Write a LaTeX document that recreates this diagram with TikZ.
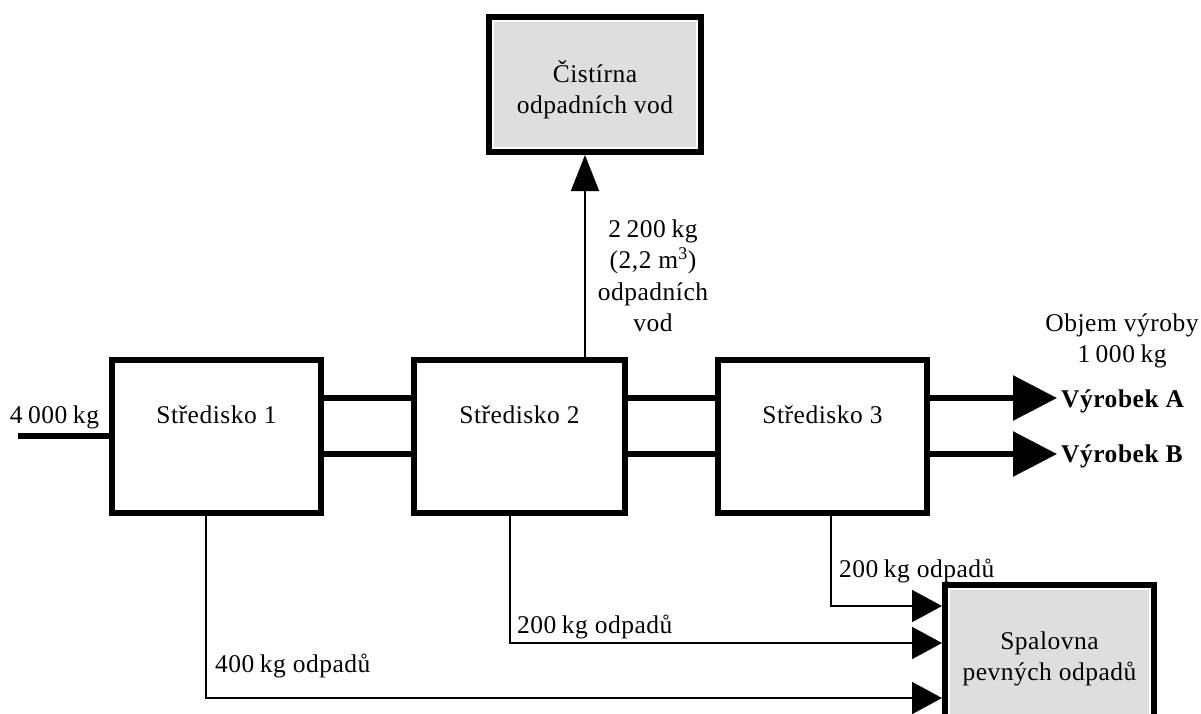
\documentclass[tikz,border=0pt]{standalone}
\usepackage{fontspec}
\setmainfont[LetterSpace=2]{Liberation Serif}
\usetikzlibrary{arrows.meta}
\definecolor{boxgray}{RGB}{222,222,222}
\newcommand{\nsp}{\hspace{5.5pt}}
\begin{document}
\begin{tikzpicture}[x=1pt,y=-1pt,
  every node/.style={font=\fontsize{25.5}{31.5}\selectfont, inner sep=0pt},
  centrebox/.style={draw, line width=6pt, fill=white, minimum height=153pt},
  destbox/.style={draw, line width=6pt, fill=boxgray},
  thickflow/.style={line width=6pt},
  thinflow/.style={line width=1.8pt},
  bigarrow/.style={-{Triangle[length=44pt,width=44pt]}},
  wastearrow/.style={-{Triangle[length=30pt,width=32pt]}},
  uparrow/.style={-{Triangle[length=36pt,width=28pt]}},
  txt/.style={anchor=base},
  ltxt/.style={anchor=base west}]
\clip (0,0) rectangle (1201,713);
% boxes
\node[destbox, minimum width=212pt, minimum height=135pt] (cis) at (595,84.5) {};
\node[centrebox, minimum width=209pt] (s1) at (216.5,436.5) {};
\node[centrebox, minimum width=211pt] (s2) at (519.5,436.5) {};
\node[centrebox, minimum width=209pt] (s3) at (822.5,436.5) {};
\node[destbox, minimum width=209pt, minimum height=175pt] (spal) at (1049.5,672.5) {};
\draw[white, line width=2pt] ([shift={(7,7)}]cis.north west) rectangle ([shift={(-7,-7)}]cis.south east);
\draw[white, line width=2pt] ([shift={(7,7)}]spal.north west) rectangle ([shift={(-7,-7)}]spal.south east);
% box texts
\node[align=center] (cist) at (595,90) {Čistírna\\odpadních vod};
\node[txt] (t1) at (216.5,423) {Středisko 1};
\node[txt] (t2) at (519.5,423) {Středisko 2};
\node[txt] (t3) at (822.5,423) {Středisko 3};
\node[align=center] (spalt) at (1049.5,659) {Spalovna\\pevných odpadů};
% helper coordinates
\coordinate (yA) at (0,398);
\coordinate (yB) at (0,454);
\coordinate (in) at (18,436);
\coordinate (xU) at (585,0);
\coordinate (x1) at (206,0);
\coordinate (x2) at (510,0);
\coordinate (x3) at (831,0);
\coordinate (w1) at (0,698);
\coordinate (w2) at (0,643);
\coordinate (w3) at (0,606);
% input
\node[txt] (inl) at (54.5,423) {4\nsp000\nsp kg};
\draw[thickflow] (in) -- (s1.west |- in);
% between centres
\draw[thickflow] (s1.east |- yA) -- (s2.west |- yA);
\draw[thickflow] (s1.east |- yB) -- (s2.west |- yB);
\draw[thickflow] (s2.east |- yA) -- (s3.west |- yA);
\draw[thickflow] (s2.east |- yB) -- (s3.west |- yB);
% outputs
\node[ltxt, font=\fontsize{25.5}{31.5}\selectfont\bfseries] (vA) at (1061,407) {Výrobek A};
\node[ltxt, font=\fontsize{25.5}{31.5}\selectfont\bfseries] (vB) at (1061,462) {Výrobek B};
\node[align=center] (obj) at (1122,341) {Objem výroby\\1\nsp000\nsp kg};
\draw[thickflow, bigarrow] (s3.east |- yA) -- ([xshift=-4pt]vA.west |- yA);
\draw[thickflow, bigarrow] (s3.east |- yB) -- ([xshift=-4pt]vB.west |- yB);
% waste water
\draw[thinflow, uparrow] (s2.north -| xU) -- (cis.south -| xU);
\node[align=center] (ww) at (653,276) {2\nsp200\nsp kg\\(2,2 m\textsuperscript{3})\\odpadních\\vod};
% solid waste
\draw[thinflow, wastearrow] (s1.south -| x1) |- (spal.west |- w1);
\draw[thinflow, wastearrow] (s2.south -| x2) |- (spal.west |- w2);
\draw[thinflow, wastearrow] (s3.south -| x3) |- (spal.west |- w3);
\node[ltxt] (l1) at (215,672) {400\nsp kg odpadů};
\node[ltxt] (l2) at (517,633) {200\nsp kg odpadů};
\node[ltxt] (l3) at (839,577) {200\nsp kg odpadů};
\end{tikzpicture}
\end{document}
